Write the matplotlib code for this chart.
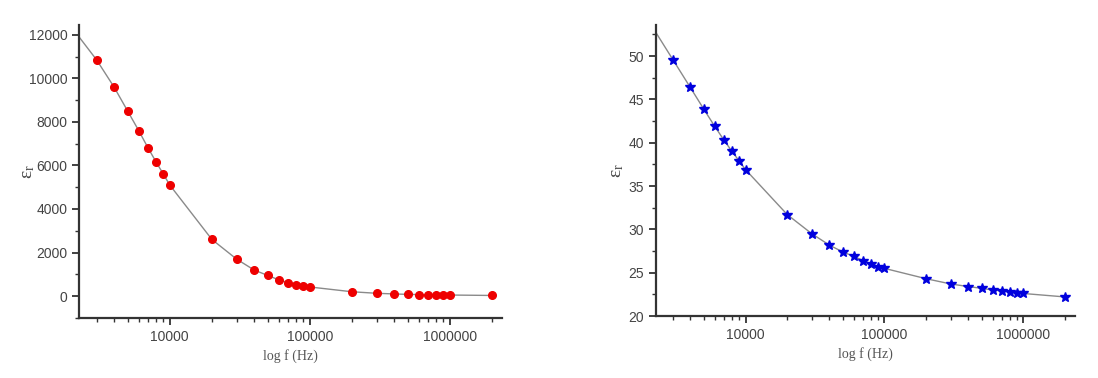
import numpy as np
import matplotlib
matplotlib.use("Agg")
import matplotlib.pyplot as plt
from matplotlib.ticker import FixedLocator, MultipleLocator, NullFormatter

# frequencies (Hz)
freq = [3000, 4000, 5000, 6000, 7000, 8000, 9000, 10000,
        20000, 30000, 40000, 50000, 60000, 70000, 80000, 90000, 100000,
        200000, 300000, 400000, 500000, 600000, 700000, 800000, 900000,
        1000000, 2000000]

# left panel permittivity
eps_left = [10850, 9600, 8500, 7600, 6800, 6150, 5600, 5100,
            2600, 1700, 1200, 950, 750, 620, 530, 470, 420,
            200, 130, 100, 80, 70, 65, 60, 55, 50, 30]

# right panel permittivity
eps_right = [49.6, 46.4, 43.9, 41.9, 40.3, 39.0, 37.9, 36.9,
             31.7, 29.5, 28.2, 27.4, 26.9, 26.4, 26.0, 25.7, 25.5,
             24.3, 23.7, 23.4, 23.2, 23.0, 22.9, 22.8, 22.7, 22.6, 22.2]

# where the fitted curve meets the left edge of each plot
curve_start_f = 2250
curve_start_left = 11900
curve_start_right = 52.8

xticks = [10000, 100000, 1000000]
xticklabels = ["10000", "100000", "1000000"]

fig = plt.figure(figsize=(10.98, 3.78), dpi=100)
ax1 = fig.add_axes([0.072, 0.159, 0.385, 0.775])
ax2 = fig.add_axes([0.597, 0.164, 0.382, 0.770])


def style_axis(ax, label_x):
    ax.set_xscale("log")
    for s in ["top", "right"]:
        ax.spines[s].set_visible(False)
    for s in ["left", "bottom"]:
        ax.spines[s].set_linewidth(1.6)
        ax.spines[s].set_color("#333333")
    ax.xaxis.set_major_locator(FixedLocator(xticks))
    ax.set_xticklabels(xticklabels)
    minors = [m * 10 ** d for d in range(3, 7) for m in range(2, 10)]
    ax.xaxis.set_minor_locator(FixedLocator(minors))
    ax.xaxis.set_minor_formatter(NullFormatter())
    ax.tick_params(which="major", direction="out", length=5, width=1.3,
                   colors="#333333", labelsize=10, labelcolor="#444444")
    ax.tick_params(which="minor", direction="out", length=3, width=1.0,
                   colors="#333333")
    for lab in ax.get_xticklabels() + ax.get_yticklabels():
        lab.set_fontfamily("Liberation Sans")
    ax.set_xlim(2250, 2.35e6)
    ax.set_xlabel("log f (Hz)", family="Liberation Serif", fontsize=10,
                  color="#555555", labelpad=4)
    ax.set_ylabel(r"$\mathregular{ε_r}$", family="Liberation Serif",
                  fontsize=14, color="#444444")
    ax.yaxis.set_label_coords(label_x, 0.5)


# left plot
ax1.plot([curve_start_f] + freq, [curve_start_left] + eps_left,
         color="#8a8a8a", lw=1.0, zorder=1)
ax1.plot(freq, eps_left, "o", color="#ee0000", ms=5.5, mec="#ee0000", zorder=2)
ax1.set_ylim(-1000, 12450)
ax1.yaxis.set_major_locator(MultipleLocator(2000))
ax1.yaxis.set_minor_locator(MultipleLocator(1000))
style_axis(ax1, -0.1)

# right plot
ax2.plot([curve_start_f] + freq, [curve_start_right] + eps_right,
         color="#8a8a8a", lw=1.0, zorder=1)
ax2.plot(freq, eps_right, "*", color="#0000dd", ms=7.5, mec="#0000dd", zorder=2)
ax2.set_ylim(20, 53.6)
ax2.yaxis.set_major_locator(MultipleLocator(5))
ax2.yaxis.set_minor_locator(MultipleLocator(2.5))
style_axis(ax2, -0.07)

fig.savefig("out.png", dpi=100)
